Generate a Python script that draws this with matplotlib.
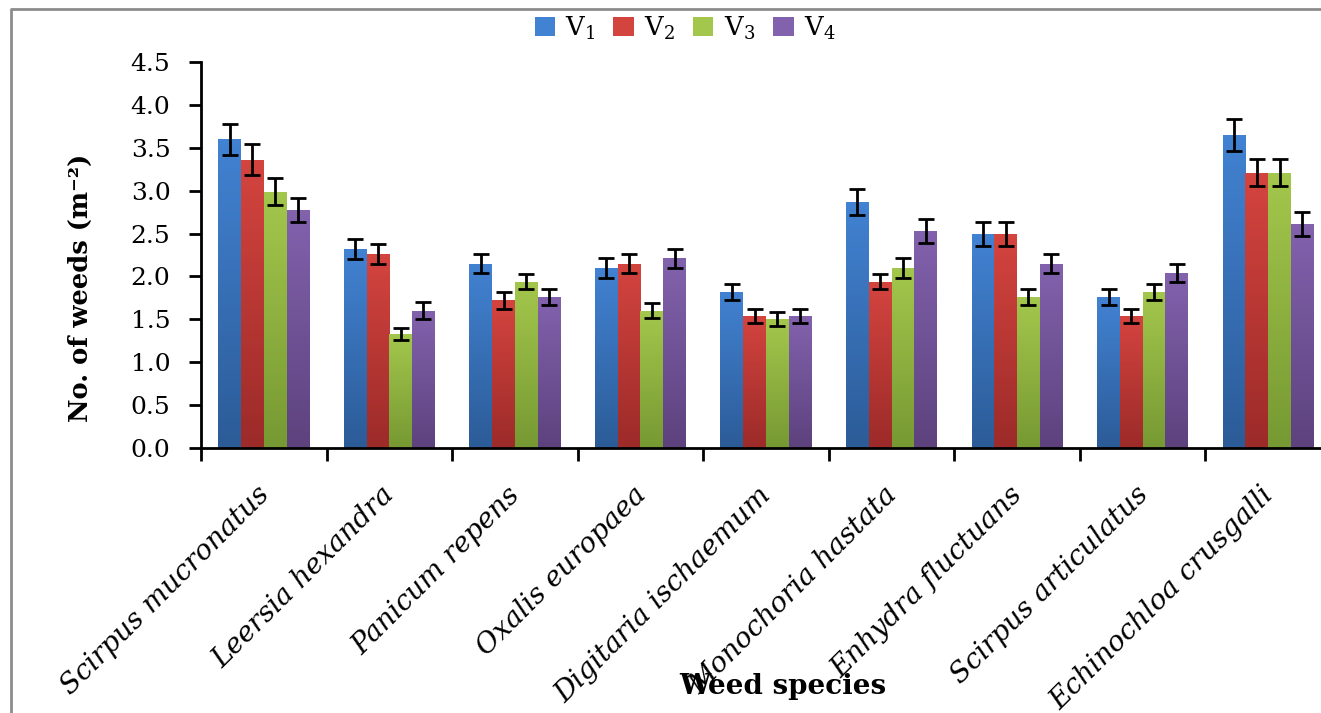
import matplotlib
matplotlib.use("Agg")
import matplotlib.pyplot as plt
import numpy as np
from matplotlib.colors import LinearSegmentedColormap
from matplotlib.lines import Line2D
from matplotlib.patches import Rectangle

plt.rcParams['font.family'] = ['DejaVu Serif']
plt.rcParams['mathtext.fontset'] = 'dejavuserif'

species = ["Scirpus mucronatus", "Leersia hexandra", "Panicum repens",
           "Oxalis europaea", "Digitaria ischaemum", "Monochoria hastata",
           "Enhydra fluctuans", "Scirpus articulatus", "Echinochloa crusgalli"]

v1 = [3.60, 2.32, 2.15, 2.10, 1.82, 2.87, 2.49, 1.76, 3.65]
v2 = [3.36, 2.26, 1.72, 2.15, 1.54, 1.94, 2.49, 1.54, 3.21]
v3 = [2.99, 1.33, 1.94, 1.60, 1.50, 2.10, 1.76, 1.82, 3.21]
v4 = [2.77, 1.60, 1.76, 2.21, 1.54, 2.53, 2.15, 2.04, 2.61]

e1 = [0.18, 0.12, 0.11, 0.12, 0.09, 0.15, 0.14, 0.09, 0.19]
e2 = [0.18, 0.12, 0.10, 0.11, 0.08, 0.09, 0.14, 0.08, 0.16]
e3 = [0.16, 0.07, 0.09, 0.09, 0.08, 0.12, 0.09, 0.09, 0.16]
e4 = [0.14, 0.10, 0.09, 0.11, 0.08, 0.14, 0.11, 0.11, 0.14]

series_names = [r'$\mathrm{V}_1$', r'$\mathrm{V}_2$', r'$\mathrm{V}_3$', r'$\mathrm{V}_4$']
# (top, bottom) gradient colours
shades = [("#4282D2", "#2C5C98"),
          ("#D4443F", "#9C2B29"),
          ("#A3C74C", "#779933"),
          ("#8262AD", "#5D427E")]

fig = plt.figure(figsize=(13.21, 7.13), dpi=100)
ax = fig.add_axes([201 / 1321, 1 - 448 / 713, 1130 / 1321, 386 / 713])

# outer grey frame (only left and top edges are visible)
fy = 1 - 9 / 713
fx = 11 / 1321
fig.lines.append(Line2D([fx, fx, 1.0], [0, fy, fy], transform=fig.transFigure,
                        color="#8c8c8c", linewidth=2))

x = np.arange(len(species)) + 0.5
width = 0.1812
grad = np.linspace(1, 0, 64).reshape(-1, 1)

for k, (vals, errs) in enumerate(zip([v1, v2, v3, v4], [e1, e2, e3, e4])):
    pos = x + (k - 1.5) * width
    top, bot = shades[k]
    cmap = LinearSegmentedColormap.from_list("g%d" % k, [bot, top])
    bars = ax.bar(pos, vals, width, color="none", edgecolor="none", zorder=2)
    for b in bars:
        im = ax.imshow(grad, cmap=cmap, aspect="auto", origin="upper",
                       extent=(b.get_x(), b.get_x() + b.get_width(),
                               0, b.get_height()), zorder=2)
        im.set_clip_path(b)
    ax.errorbar(pos, vals, yerr=errs, fmt="none", ecolor="black",
                elinewidth=2, capsize=5.5, capthick=2, zorder=3)

ax.set_xlim(0, 9)
ax.set_ylim(0, 4.5)
ax.set_yticks(np.arange(0, 4.51, 0.5))
ax.set_yticklabels(["%.1f" % t for t in np.arange(0, 4.51, 0.5)], fontsize=18)
ax.set_xticks(np.arange(0, 10))
ax.set_xticklabels([])
ax.tick_params(axis="x", direction="out", length=9, width=2)
ax.tick_params(axis="y", direction="out", length=9, width=2, pad=13)

# species names, rotated
for xi, name in zip(x, species):
    ax.annotate(name, (xi, 0), xycoords=("data", "axes fraction"),
                xytext=(-6, -24), textcoords="offset points",
                ha="right", va="top", rotation=45, rotation_mode="anchor",
                fontsize=20, style="italic")

for s in ["top", "right"]:
    ax.spines[s].set_visible(False)
for s in ["left", "bottom"]:
    ax.spines[s].set_linewidth(2)

fig.text(80 / 1321, 1 - 288 / 713, "No. of weeds (m\u207b\u00b2)",
         rotation=90, ha="center", va="center", fontsize=18.5, fontweight="bold")
fig.text(783 / 1321, 1 - 687 / 713, "Weed species", ha="center", va="center",
         fontsize=20, fontweight="bold")

handles = [Rectangle((0, 0), 1, 1, facecolor=shades[k][0]) for k in range(4)]
fig.legend(handles, series_names, loc="center", ncol=4, frameon=False,
           bbox_to_anchor=(685 / 1321, 1 - 28 / 713), fontsize=18.5,
           handlelength=0.8, handleheight=0.8, handletextpad=0.4,
           columnspacing=0.7)

fig.savefig("out.png", dpi=100)
